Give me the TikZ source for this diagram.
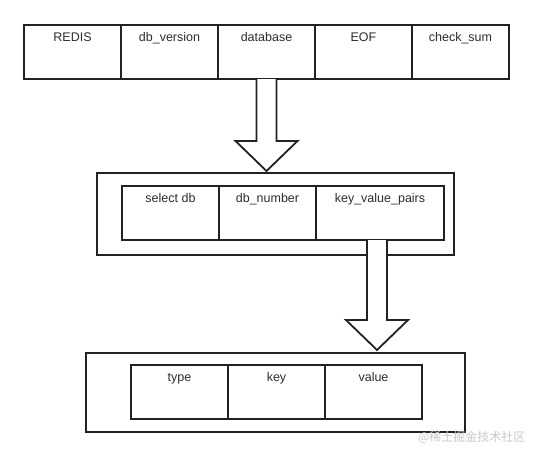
\documentclass[tikz,border=0pt]{standalone}
\usepackage{fontspec}
\setmainfont{Liberation Sans}
\newfontfamily\cjk{Noto Sans CJK SC}
\usetikzlibrary{positioning,calc}
\definecolor{boxK}{RGB}{34,34,34}
\definecolor{txtK}{RGB}{45,45,45}
\definecolor{markG}{RGB}{200,200,200}
% hollow block arrow straight down, from #1 (top of shaft) to #2 (tip)
\newcommand{\fatarrow}[2]{%
  \draw[arrowline] let \p1=(#1), \p2=(#2) in
    (\x1-10pt,\y1) -- (\x1-10pt,\y2+30pt) -- (\x1-31pt,\y2+30pt) -- (\x1,\y2)
    -- (\x1+31pt,\y2+30pt) -- (\x1+10pt,\y2+30pt) -- (\x1+10pt,\y1);}

\begin{document}
\begin{tikzpicture}[x=1pt,y=-1pt,
  cell/.style={draw=boxK,line width=1.8pt,outer sep=0pt,inner sep=0pt,minimum width=97pt,
    text height=16pt,text depth=38pt,font=\fontsize{12.5}{15}\selectfont,text=txtK},
  frame/.style={draw=boxK,line width=1.8pt,outer sep=0pt,inner sep=0pt},
  arrowline/.style={draw=boxK,line width=1.8pt,fill=white,line join=miter}]
\useasboundingbox (0,0) rectangle (534,456);
% rdb file
\node[cell,anchor=north west] (redis) at (24,25) {REDIS};
\node[cell,right=0pt of redis] (version) {db\_version};
\node[cell,right=0pt of version] (database) {database};
\node[cell,right=0pt of database] (eof) {EOF};
\node[cell,right=0pt of eof] (checksum) {check\_sum};
% one database
\node[frame,anchor=north west,minimum width=357pt,minimum height=82pt] (dbbox) at (97,173) {};
\node[cell,anchor=north west] (select) at (122,186) {select db};
\node[cell,right=0pt of select] (dbnum) {db\_number};
\node[cell,right=0pt of dbnum,minimum width=128pt] (kvp) {key\_value\_pairs};
% one pair
\node[frame,anchor=north west,minimum width=379pt,minimum height=79pt] (pairbox) at (86,353) {};
\node[cell,anchor=north west] (type) at (131,365) {type};
\node[cell,right=0pt of type] (key) {key};
\node[cell,right=0pt of key] (value) {value};
\fatarrow{database.south}{[yshift=2pt]dbbox.north}
\fatarrow{[xshift=-3pt]kvp.south}{[yshift=3pt]pairbox.north}
\node[text=markG,font=\cjk\fontsize{12}{14}\selectfont,anchor=east] (mark) at (529,437) {@稀土掘金技术社区};
\end{tikzpicture}
\end{document}
